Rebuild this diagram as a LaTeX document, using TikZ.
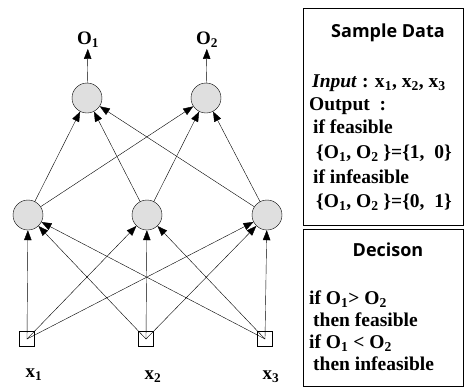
\documentclass[tikz,border=0pt]{standalone}
\usepackage{fontspec}
\setmainfont{Liberation Serif}
\newfontfamily\titlefont{Open Sans}
\usetikzlibrary{arrows.meta,positioning}

\begin{document}
\begin{tikzpicture}[
    x=1pt, y=-1pt,
    neuron/.style={circle, draw=black, thin, fill=gray!25, minimum size=30pt, inner sep=0pt},
    inbox/.style={rectangle, draw=black, thin, minimum size=15pt, inner sep=0pt},
    lbl/.style={inner sep=1pt, font=\bfseries\fontsize{19}{19}\selectfont},
    panel/.style={rectangle, draw=black, thin},
    ptitle/.style={font=\titlefont\bfseries\fontsize{18}{18}\selectfont},
    ptext/.style={anchor=base west, inner sep=0pt, font=\bfseries\fontsize{19.5}{19.5}\selectfont},
    arrow/.style={-{Triangle[length=10pt,width=7.5pt]}, thin}
]
\useasboundingbox (0,0) rectangle (464,389);

% Input layer
\node[inbox] (in1) at (27,339) {};
\node[inbox] (in2) at (146,339) {};
\node[inbox] (in3) at (265,339) {};
\node[lbl] (x1) at (34,375) {x\textsubscript{1}};
\node[lbl] (x2) at (153,377) {x\textsubscript{2}};
\node[lbl] (x3) at (271,377) {x\textsubscript{3}};

% Hidden layer
\node[neuron] (h1) at (28,215) {};
\node[neuron] (h2) at (147,215) {};
\node[neuron] (h3) at (267,215) {};

% Output layer
\node[neuron] (o1) at (87,98) {};
\node[neuron] (o2) at (206,98) {};
\node[lbl] (l1) at (88,40) {O\textsubscript{1}};
\node[lbl] (l2) at (207,40) {O\textsubscript{2}};

% Arrows
\foreach \i in {1,2,3}
  \foreach \j in {1,2,3}
    \draw[arrow] (in\i.center) -- (h\j);
\foreach \i in {1,2,3}
  \foreach \j in {1,2}
    \draw[arrow] (h\i) -- (o\j);
\draw[arrow] (o1) -- (l1);
\draw[arrow] (o2) -- (l2);

% Sample data panel
\node[panel, minimum width=160pt, minimum height=217pt, anchor=north west] (sample) at (303,8) {};
\node[ptitle] (stitle) at (388,33) {Sample Data};
\node[ptext] (s1) at (312,87) {\textit{Input} : x\textsubscript{1}, x\textsubscript{2}, x\textsubscript{3}};
\node[ptext] (s2) at (309,110) {Output\ \ :};
\node[ptext] (s3) at (313,133) {if feasible};
\node[ptext] (s4) at (316,158) {\{O\textsubscript{1}, O\textsubscript{2} \}=\{1,\ \ 0\}};
\node[ptext] (s5) at (313,183) {if infeasible};
\node[ptext] (s6) at (316,207) {\{O\textsubscript{1}, O\textsubscript{2} \}=\{0,\ \ 1\}};

% Decision panel
\node[panel, minimum width=160pt, minimum height=157pt, anchor=north west] (decide) at (303,229) {};
\node[ptitle] (dtitle) at (388,250) {Decison};
\node[ptext] (d1) at (309,304) {if O\textsubscript{1}> O\textsubscript{2}};
\node[ptext] (d2) at (313,326) {then feasible};
\node[ptext] (d3) at (309,348) {if O\textsubscript{1} < O\textsubscript{2}};
\node[ptext] (d4) at (313,370) {then infeasible};

\end{tikzpicture}
\end{document}
